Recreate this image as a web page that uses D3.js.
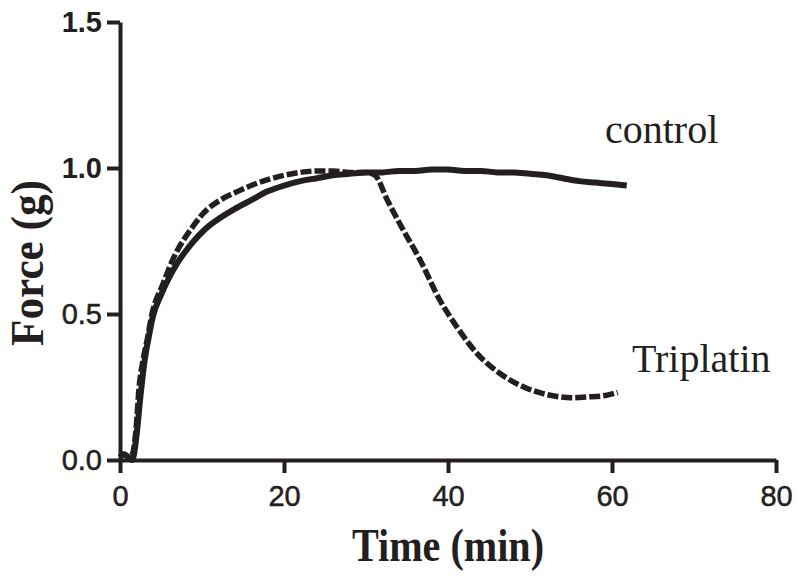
<!DOCTYPE html>
<html>
<head>
<meta charset="utf-8">
<script src="https://cdn.jsdelivr.net/npm/d3@7"></script>
<style>
  html, body { margin: 0; padding: 0; background: #fff; }
  svg { display: block; }
</style>
</head>
<body>
<svg id="chart" width="800" height="578"></svg>
<script>
// ---- data ----
const xTicks = [0, 20, 40, 60, 80];
const yTicks = [0.0, 0.5, 1.0, 1.5];
const xTitle = "Time (min)";
const yTitle = "Force (g)";

const controlTime  = [0, 0.5, 1.0, 1.5, 2.0, 2.5, 3.0, 3.5, 4.0, 5.0, 6.0, 7.0, 8.0, 9.0, 10.0, 11.0, 12.0, 14.0, 16.0, 18.0, 20.0, 22.0, 24.0, 26.0, 28.0, 30.0, 32.0, 34.0, 36.0, 38.0, 40.0, 42.0, 44.0, 46.0, 48.0, 50.0, 52.0, 54.0, 56.0, 58.0, 60.0, 61.8];
const controlForce = [0.01, 0.02, 0.01, 0.0, 0.08, 0.22, 0.34, 0.42, 0.49, 0.565, 0.625, 0.675, 0.715, 0.75, 0.78, 0.805, 0.825, 0.86, 0.89, 0.92, 0.94, 0.955, 0.965, 0.975, 0.98, 0.985, 0.985, 0.99, 0.99, 0.995, 0.995, 0.99, 0.99, 0.985, 0.985, 0.98, 0.975, 0.965, 0.955, 0.95, 0.945, 0.94];

const triplatinTime  = [0, 0.5, 1.0, 1.5, 2.0, 2.3, 2.8, 3.3, 3.9, 5.2, 6.5, 8.9, 10.0, 12.2, 14.0, 16.0, 18.0, 20.0, 22.0, 24.0, 26.0, 28.0, 30.0, 31.1, 32.6, 34.1, 36.6, 39.0, 41.1, 43.5, 46.3, 49.6, 51.5, 53.7, 55.0, 57.0, 59.0, 60.7];
const triplatinForce = [0.01, 0.02, 0.01, 0.02, 0.12, 0.24, 0.34, 0.41, 0.50, 0.60, 0.69, 0.80, 0.84, 0.89, 0.915, 0.94, 0.96, 0.975, 0.985, 0.99, 0.99, 0.985, 0.985, 0.975, 0.89, 0.81, 0.685, 0.548, 0.455, 0.366, 0.297, 0.246, 0.228, 0.216, 0.213, 0.216, 0.22, 0.232];

const seriesNames = ["control", "Triplatin"];

// ---- drawing ----
const ink = "#231f20";
const svg = d3.select("#chart");

const x = d3.scaleLinear().domain([0, 80]).range([120, 776]);
const y = d3.scaleLinear().domain([0, 1.5]).range([460, 22]);

// axes
const xAxis = d3.axisBottom(x).tickValues(xTicks).tickFormat(d3.format("d")).tickSize(13).tickSizeOuter(0).tickPadding(12);
const yAxis = d3.axisLeft(y).tickValues(yTicks).tickFormat(d3.format(".1f")).tickSize(13).tickSizeOuter(0).tickPadding(5);

const gx = svg.append("g").attr("transform", `translate(0,${y(0)})`).call(xAxis);
const gy = svg.append("g").attr("transform", `translate(${x(0)},0)`).call(yAxis);

[gx, gy].forEach(g => {
  g.select(".domain").attr("stroke", ink).attr("stroke-width", 4);
  g.selectAll(".tick line").attr("stroke", ink).attr("stroke-width", 4);
  g.selectAll(".tick text")
    .attr("fill", ink)
    .attr("stroke", ink)
    .attr("stroke-width", 0.5)
    .style("font-family", "'Liberation Sans', Arial, sans-serif")
    .style("font-size", "29px");
});
gx.selectAll(".tick text").attr("dy", "0.71em");
gy.selectAll(".tick text").filter(d => d >= 1).style("font-weight", "bold").attr("stroke-width", 0);

// lines
const line = d3.line().x(d => x(d[0])).y(d => y(d[1])).curve(d3.curveMonotoneX);
const controlData = controlTime.map((t, i) => [t, controlForce[i]]);
const triplatinData = triplatinTime.map((t, i) => [t, triplatinForce[i]]);

svg.append("path").datum(controlData)
  .attr("d", line).attr("fill", "none")
  .attr("stroke", ink).attr("stroke-width", 6).attr("stroke-linejoin", "round");

svg.append("path").datum(triplatinData)
  .attr("d", line).attr("fill", "none")
  .attr("stroke", ink).attr("stroke-width", 5.5)
  .attr("stroke-dasharray", "11,3");

// series labels
svg.append("text").attr("x", 605).attr("y", 143)
  .text(seriesNames[0])
  .attr("fill", ink)
  .style("font-family", "'Liberation Serif', 'Times New Roman', serif")
  .style("font-size", "40px");
svg.append("text").attr("x", 632).attr("y", 372)
  .text(seriesNames[1])
  .attr("fill", ink)
  .style("font-family", "'Liberation Serif', 'Times New Roman', serif")
  .style("font-size", "40px");

// axis titles
svg.append("text").attr("x", 352).attr("y", 561)
  .text(xTitle)
  .attr("fill", ink)
  .attr("textLength", 192).attr("lengthAdjust", "spacingAndGlyphs")
  .style("font-family", "'Liberation Serif', 'Times New Roman', serif")
  .style("font-weight", "bold")
  .style("font-size", "46px");

svg.append("text")
  .attr("transform", "translate(43,346) rotate(-90)")
  .text(yTitle)
  .attr("fill", ink)
  .attr("textLength", 166).attr("lengthAdjust", "spacingAndGlyphs")
  .style("font-family", "'Liberation Serif', 'Times New Roman', serif")
  .style("font-weight", "bold")
  .style("font-size", "46px");
</script>
</body>
</html>
